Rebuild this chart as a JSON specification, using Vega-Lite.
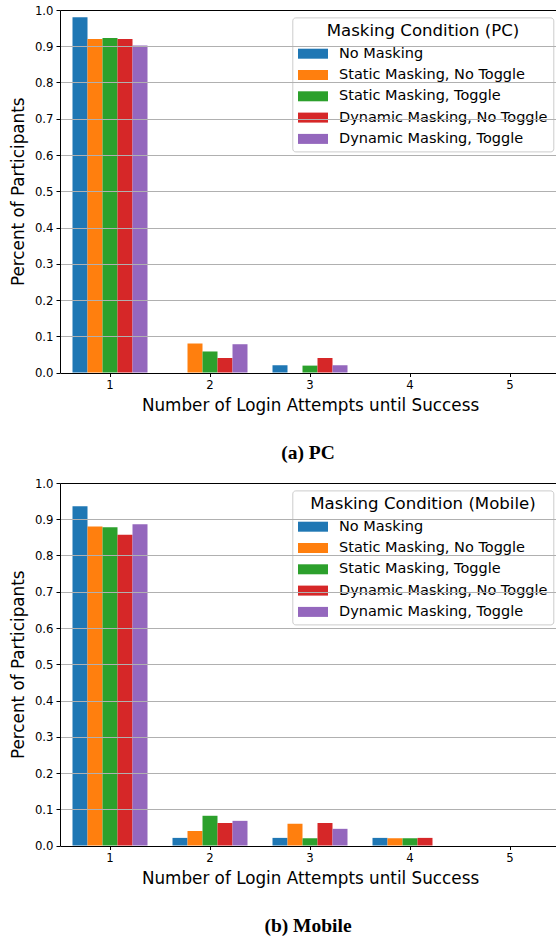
{
  "$schema": "https://vega.github.io/schema/vega-lite/v6.json",
  "padding": {"left": 10, "top": 5, "right": 0, "bottom": 0},
  "spacing": 15,
  "config": {
    "font": "DejaVu Sans",
    "view": {"stroke": null},
    "axis": {
      "labelFont": "DejaVu Sans", "titleFont": "DejaVu Sans",
      "labelColor": "#000", "titleColor": "#000", "tickColor": "#000", "domainColor": "#000",
      "titleFontWeight": "normal", "labelFontSize": 11.7, "titleFontSize": 16.8,
      "tickSize": 4, "tickWidth": 1, "domainWidth": 1, "labelPadding": 3
    },
    "legend": {
      "orient": "none", "legendX": 232.3, "legendY": 7.4,
      "titleFont": "DejaVu Sans", "labelFont": "DejaVu Sans",
      "titleFontSize": 16.6, "titleFontWeight": "normal", "titleColor": "#000", "titleAnchor": "middle", "titleLimit": 500,
      "labelFontSize": 14.5, "labelColor": "#000",
      "symbolType": "M-1,-0.5H2V0.5H-1Z", "symbolSize": 400, "symbolStrokeWidth": 0, "symbolOpacity": 1,
      "fillColor": "rgba(255,255,255,0.8)", "strokeColor": "#cccccc", "cornerRadius": 3,
      "padding": 5.7, "rowPadding": 4.3, "labelOffset": 21, "titlePadding": 4, "labelLimit": 400
    },
    "title": {"font": "Liberation Serif", "fontSize": 19.5, "fontWeight": "bold", "color": "#000", "anchor": "middle"}
  },
  "datasets": {
    "pc": [
      {"attempts": 1, "condition": "No Masking", "pct": 0.98},
      {"attempts": 1, "condition": "Static Masking, No Toggle", "pct": 0.92},
      {"attempts": 1, "condition": "Static Masking, Toggle", "pct": 0.923},
      {"attempts": 1, "condition": "Dynamic Masking, No Toggle", "pct": 0.92},
      {"attempts": 1, "condition": "Dynamic Masking, Toggle", "pct": 0.902},
      {"attempts": 2, "condition": "No Masking", "pct": 0},
      {"attempts": 2, "condition": "Static Masking, No Toggle", "pct": 0.08},
      {"attempts": 2, "condition": "Static Masking, Toggle", "pct": 0.058},
      {"attempts": 2, "condition": "Dynamic Masking, No Toggle", "pct": 0.04},
      {"attempts": 2, "condition": "Dynamic Masking, Toggle", "pct": 0.078},
      {"attempts": 3, "condition": "No Masking", "pct": 0.02},
      {"attempts": 3, "condition": "Static Masking, No Toggle", "pct": 0},
      {"attempts": 3, "condition": "Static Masking, Toggle", "pct": 0.019},
      {"attempts": 3, "condition": "Dynamic Masking, No Toggle", "pct": 0.04},
      {"attempts": 3, "condition": "Dynamic Masking, Toggle", "pct": 0.02},
      {"attempts": 4, "condition": "No Masking", "pct": 0},
      {"attempts": 4, "condition": "Static Masking, No Toggle", "pct": 0},
      {"attempts": 4, "condition": "Static Masking, Toggle", "pct": 0},
      {"attempts": 4, "condition": "Dynamic Masking, No Toggle", "pct": 0},
      {"attempts": 4, "condition": "Dynamic Masking, Toggle", "pct": 0},
      {"attempts": 5, "condition": "No Masking", "pct": 0},
      {"attempts": 5, "condition": "Static Masking, No Toggle", "pct": 0},
      {"attempts": 5, "condition": "Static Masking, Toggle", "pct": 0},
      {"attempts": 5, "condition": "Dynamic Masking, No Toggle", "pct": 0},
      {"attempts": 5, "condition": "Dynamic Masking, Toggle", "pct": 0}
    ],
    "mobile": [
      {"attempts": 1, "condition": "No Masking", "pct": 0.936},
      {"attempts": 1, "condition": "Static Masking, No Toggle", "pct": 0.88},
      {"attempts": 1, "condition": "Static Masking, Toggle", "pct": 0.878},
      {"attempts": 1, "condition": "Dynamic Masking, No Toggle", "pct": 0.857},
      {"attempts": 1, "condition": "Dynamic Masking, Toggle", "pct": 0.886},
      {"attempts": 2, "condition": "No Masking", "pct": 0.021},
      {"attempts": 2, "condition": "Static Masking, No Toggle", "pct": 0.04},
      {"attempts": 2, "condition": "Static Masking, Toggle", "pct": 0.082},
      {"attempts": 2, "condition": "Dynamic Masking, No Toggle", "pct": 0.062},
      {"attempts": 2, "condition": "Dynamic Masking, Toggle", "pct": 0.068},
      {"attempts": 3, "condition": "No Masking", "pct": 0.021},
      {"attempts": 3, "condition": "Static Masking, No Toggle", "pct": 0.06},
      {"attempts": 3, "condition": "Static Masking, Toggle", "pct": 0.02},
      {"attempts": 3, "condition": "Dynamic Masking, No Toggle", "pct": 0.062},
      {"attempts": 3, "condition": "Dynamic Masking, Toggle", "pct": 0.046},
      {"attempts": 4, "condition": "No Masking", "pct": 0.021},
      {"attempts": 4, "condition": "Static Masking, No Toggle", "pct": 0.02},
      {"attempts": 4, "condition": "Static Masking, Toggle", "pct": 0.02},
      {"attempts": 4, "condition": "Dynamic Masking, No Toggle", "pct": 0.021},
      {"attempts": 4, "condition": "Dynamic Masking, Toggle", "pct": 0},
      {"attempts": 5, "condition": "No Masking", "pct": 0},
      {"attempts": 5, "condition": "Static Masking, No Toggle", "pct": 0},
      {"attempts": 5, "condition": "Static Masking, Toggle", "pct": 0},
      {"attempts": 5, "condition": "Dynamic Masking, No Toggle", "pct": 0},
      {"attempts": 5, "condition": "Dynamic Masking, Toggle", "pct": 0}
    ]
  },
  "resolve": {"scale": {"color": "independent"}, "legend": {"color": "independent"}},
  "vconcat": [
    {
      "width": 496, "height": 362.5,
      "data": {"name": "pc"},
      "title": {"text": "(a) PC", "orient": "bottom", "offset": 30},
      "mark": {"type": "bar"},
      "encoding": {
        "x": {"field": "attempts", "type": "ordinal",
          "scale": {"domain": [1, 2, 3, 4, 5], "range": [0, 500], "paddingInner": 0.25, "paddingOuter": 0.125},
          "axis": {"title": "Number of Login Attempts until Success", "labelAngle": 0, "domain": false, "grid": false, "titlePadding": 6}},
        "xOffset": {"field": "condition", "type": "nominal",
          "sort": ["No Masking", "Static Masking, No Toggle", "Static Masking, Toggle", "Dynamic Masking, No Toggle", "Dynamic Masking, Toggle"],
          "scale": {"paddingInner": 0, "paddingOuter": 0}},
        "y": {"field": "pct", "type": "quantitative", "scale": {"domain": [0, 1], "nice": false},
          "axis": {"title": "Percent of Participants", "values": [0, 0.1, 0.2, 0.3, 0.4, 0.5, 0.6, 0.7, 0.8, 0.9, 1], "format": ".1f",
            "grid": true, "gridColor": {"condition": {"test": "datum.value === 1 || datum.value === 0", "value": "#000"}, "value": "#b0b0b0"},
            "gridWidth": 1, "zindex": 1, "domain": true, "titlePadding": 7}},
        "color": {"field": "condition", "type": "nominal",
          "scale": {"domain": ["No Masking", "Static Masking, No Toggle", "Static Masking, Toggle", "Dynamic Masking, No Toggle", "Dynamic Masking, Toggle"],
            "range": ["#1f77b4", "#ff7f0e", "#2ca02c", "#d62728", "#9467bd"]},
          "legend": {"title": "Masking Condition (PC)"}}
      }
    },
    {
      "width": 496, "height": 362.5,
      "data": {"name": "mobile"},
      "title": {"text": "(b) Mobile", "orient": "bottom", "offset": 30},
      "mark": {"type": "bar"},
      "encoding": {
        "x": {"field": "attempts", "type": "ordinal",
          "scale": {"domain": [1, 2, 3, 4, 5], "range": [0, 500], "paddingInner": 0.25, "paddingOuter": 0.125},
          "axis": {"title": "Number of Login Attempts until Success", "labelAngle": 0, "domain": false, "grid": false, "titlePadding": 6}},
        "xOffset": {"field": "condition", "type": "nominal",
          "sort": ["No Masking", "Static Masking, No Toggle", "Static Masking, Toggle", "Dynamic Masking, No Toggle", "Dynamic Masking, Toggle"],
          "scale": {"paddingInner": 0, "paddingOuter": 0}},
        "y": {"field": "pct", "type": "quantitative", "scale": {"domain": [0, 1], "nice": false},
          "axis": {"title": "Percent of Participants", "values": [0, 0.1, 0.2, 0.3, 0.4, 0.5, 0.6, 0.7, 0.8, 0.9, 1], "format": ".1f",
            "grid": true, "gridColor": {"condition": {"test": "datum.value === 1 || datum.value === 0", "value": "#000"}, "value": "#b0b0b0"},
            "gridWidth": 1, "zindex": 1, "domain": true, "titlePadding": 7}},
        "color": {"field": "condition", "type": "nominal",
          "scale": {"domain": ["No Masking", "Static Masking, No Toggle", "Static Masking, Toggle", "Dynamic Masking, No Toggle", "Dynamic Masking, Toggle"],
            "range": ["#1f77b4", "#ff7f0e", "#2ca02c", "#d62728", "#9467bd"]},
          "legend": {"title": "Masking Condition (Mobile)"}}
      }
    }
  ]
}
